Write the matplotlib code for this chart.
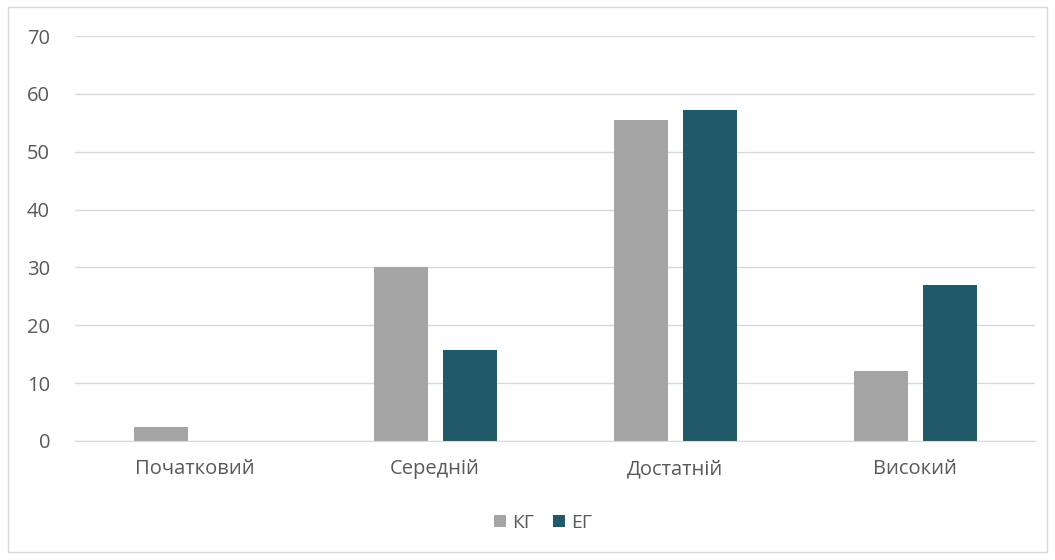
import matplotlib.pyplot as plt
import numpy as np
from matplotlib.patches import Rectangle

categories = ['Початковий', 'Середній', 'Достатній', 'Високий']
kg_values = [2.4, 30.0, 55.4, 12.1]
eg_values = [0, 15.8, 57.2, 27.0]
series_names = ['КГ', 'ЕГ']

KG_COLOR = '#A5A5A5'
EG_COLOR = '#215968'
GRID = '#D9D9D9'
TEXT = '#595959'

plt.rcParams['font.family'] = ['Open Sans', 'DejaVu Sans']

fig = plt.figure(figsize=(10.55, 5.6), dpi=100)
# chart frame
fig.patches.append(Rectangle((8 / 1055, 8 / 560), 1039 / 1055, 545 / 560,
                             transform=fig.transFigure, fill=False,
                             edgecolor=GRID, linewidth=1))

ax = fig.add_axes([75 / 1055, 119 / 560, 960 / 1055, 405 / 560])

x = np.arange(len(categories))
w = 0.225
gap = 0.0625
ax.bar(x - (w + gap) / 2, kg_values, w, color=KG_COLOR, label=series_names[0], zorder=3)
ax.bar(x + (w + gap) / 2, eg_values, w, color=EG_COLOR, label=series_names[1], zorder=3)

ax.set_xlim(-0.5, len(categories) - 0.5)
ax.set_ylim(0, 70)
ax.set_yticks(range(0, 71, 10))
ax.set_xticks(x)
ax.set_xticklabels(categories)
ax.grid(axis='y', color=GRID, linewidth=1, zorder=0)
ax.tick_params(axis='both', length=0, labelsize=14.5, colors=TEXT)
ax.tick_params(axis='x', pad=13)
ax.tick_params(axis='y', pad=18)
for s in ['top', 'right', 'left']:
    ax.spines[s].set_visible(False)
ax.spines['bottom'].set_color(GRID)
ax.spines['bottom'].set_zorder(4)

leg = fig.legend(loc='center', bbox_to_anchor=(543 / 1055, 37 / 560), ncol=2,
                 frameon=False, fontsize=14, handlelength=0.6, handleheight=0.6,
                 handletextpad=0.3, columnspacing=1.0)
for t in leg.get_texts():
    t.set_color(TEXT)

fig.savefig('out.png', dpi=100)
